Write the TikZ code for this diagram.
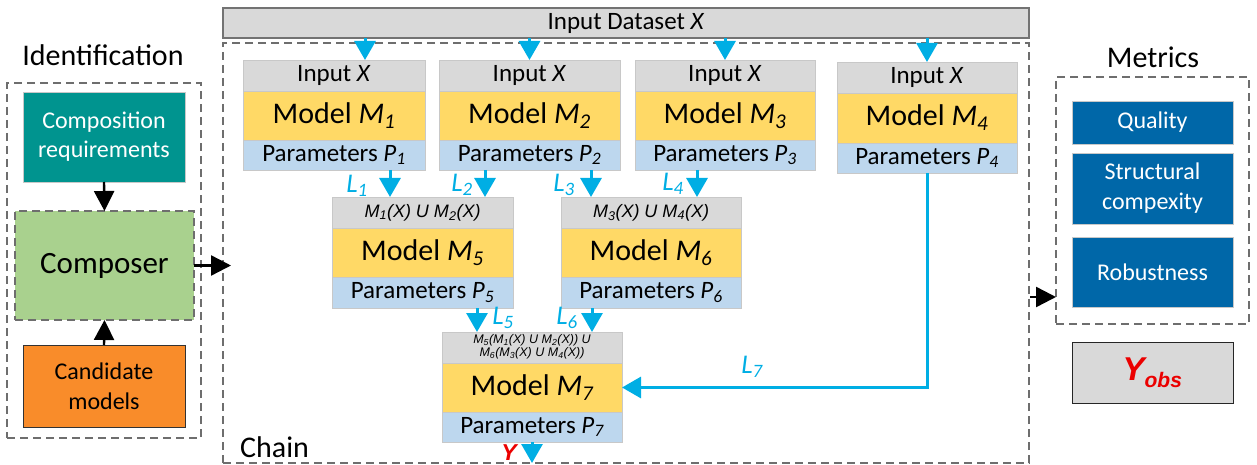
\documentclass[tikz,border=0pt]{standalone}
\usepackage{fontspec}
\setmainfont{Carlito}
\newfontfamily\arialf{Liberation Sans}
\usetikzlibrary{arrows.meta}

\definecolor{cy}{RGB}{0,174,228}
\definecolor{partgray}{RGB}{217,217,217}
\definecolor{partyellow}{RGB}{255,217,102}
\definecolor{partblue}{RGB}{189,215,238}
\definecolor{tealbox}{RGB}{0,148,143}
\definecolor{greenbox}{RGB}{169,209,142}
\definecolor{orangebox}{RGB}{249,140,42}
\definecolor{metblue}{RGB}{0,103,168}
\definecolor{dashgray}{RGB}{110,110,110}
\definecolor{edgegray}{RGB}{200,200,200}
\definecolor{redtext}{RGB}{235,0,0}

\newcommand\fs[1]{\fontsize{#1}{#1}\selectfont}
\newcommand\fsl[2]{\fontsize{#1}{#2}\selectfont}

% #1 name, #2 left, #3 right, #4 top, #5 grey/yellow split, #6 yellow/blue split, #7 bottom, #8 input text, #9 index
\newcommand\modelblock[9]{%
  \node[inpart, minimum width={#3-#2}, minimum height={#5-#4}] (#1in) at (#2,#4) {#8};
  \node[modpart, minimum width={#3-#2}, minimum height={#6-#5}] (#1) at (#2,#5) {Model \textit{M\textsubscript{#9}}};
  \node[parpart, minimum width={#3-#2}, minimum height={#7-#6}] (#1par) at (#2,#6) {Parameters \textit{P\textsubscript{#9}}};
}

\tikzset{
  part/.style={anchor=north west, inner sep=0pt, outer sep=0pt, draw=edgegray, line width=0.8pt},
  inpart/.style={part, fill=partgray, font=\fs{25}},
  modpart/.style={part, fill=partyellow, font=\fs{30}},
  parpart/.style={part, fill=partblue, font=\fs{25}},
  frame/.style={draw=dashgray, line width=1.3pt, dash pattern=on 8pt off 5pt},
  plainbox/.style={anchor=north west, inner sep=0pt, outer sep=0pt, align=center},
  cyarrow/.style={draw=cy, line width=3pt, -{Triangle[width=21pt,length=19pt]}},
  blkarrow/.style={draw=black, line width=2.4pt, -{Triangle[width=20pt,length=20pt]}},
  llabel/.style={text=cy, font=\fs{27}\itshape, inner sep=0pt},
  title/.style={font=\fs{30}, inner sep=0pt},
  metbox/.style={plainbox, fill=metblue, draw=edgegray, line width=0.8pt, text=white, font=\fsl{24}{30}, minimum width=161pt},
}

\begin{document}
\begin{tikzpicture}[x=1pt, y=-1pt]
\useasboundingbox (0,0) rectangle (1257,465);

% ---------- identification panel ----------
\node[title] (idtitle) at (103,55) {Identification};
\node[plainbox, frame, minimum width=194pt, minimum height=355pt] (idframe) at (7,83) {};
\node[plainbox, fill=tealbox, draw=edgegray, line width=0.6pt, text=white, font=\fsl{24}{29},
      minimum width=162pt, minimum height=90pt] (comp) at (23,92) {Composition\\requirements};
\node[plainbox, fill=greenbox, frame, font=\fs{31},
      minimum width=179pt, minimum height=109pt] (composer) at (15,211) {Composer};
\node[plainbox, fill=orangebox, draw=black!80, line width=0.9pt, font=\fsl{24}{30},
      minimum width=162pt, minimum height=82pt] (cand) at (23,345) {Candidate\\models};

\draw[blkarrow] (comp.south) -- (composer.north);
\draw[blkarrow] (cand.north) -- (composer.south);

% ---------- chain ----------
\node[plainbox, fill=partgray, draw=black!55, line width=1.2pt, font=\fs{25},
      minimum width=806pt, minimum height=30pt] (dataset) at (223,8) {Input Dataset \textit{X}};
\node[plainbox, frame, minimum width=806pt, minimum height=420pt] (chain) at (223,43) {};
\node[font=\fs{30}, anchor=base west, inner sep=0pt] (chainlabel) at (240,457) {Chain};

\draw[blkarrow, shorten >=-8pt] (composer.east) -- (composer.east -| chain.west);

\modelblock{ma}{243}{425}{60}{91}{140}{170}{Input \textit{X}}{1}
\modelblock{mb}{439}{620}{60}{91}{140}{170}{Input \textit{X}}{2}
\modelblock{mc}{635}{815}{60}{91}{140}{170}{Input \textit{X}}{3}
\modelblock{md}{837}{1017}{62}{93}{143}{173}{Input \textit{X}}{4}
\modelblock{me}{332}{513}{197}{228}{277}{308}{\arialf\itshape\fs{18}M\textsubscript{1}(X) U M\textsubscript{2}(X)}{5}
\modelblock{mf}{561}{741}{197}{228}{277}{308}{\arialf\itshape\fs{18}M\textsubscript{3}(X) U M\textsubscript{4}(X)}{6}
\modelblock{mg}{442}{622}{332}{363}{412}{442}{\arialf\itshape\fsl{12.5}{13}\begin{tabular}{@{}c@{}}M\textsubscript{5}(M\textsubscript{1}(X) U M\textsubscript{2}(X)) U\\M\textsubscript{6}(M\textsubscript{3}(X) U M\textsubscript{4}(X))\end{tabular}}{7}

% inputs from the dataset
\coordinate (xa) at (365,0);
\draw[cyarrow] (dataset.south -| xa) -- (main.north -| xa);
\draw[cyarrow] (dataset.south -| mbin.north) -- (mbin.north);
\draw[cyarrow] (dataset.south -| mcin.north) -- (mcin.north);
\draw[cyarrow] (dataset.south -| mdin.north) -- (mdin.north);

% links between models
\coordinate (x1) at (390,0);
\coordinate (x2) at (485,0);
\coordinate (x3) at (591,0);
\coordinate (x4) at (697,0);
\coordinate (x5) at (477,0);
\coordinate (x6) at (592,0);
\draw[cyarrow] (mapar.south -| x1) -- (mein.north -| x1);
\draw[cyarrow] (mbpar.south -| x2) -- (mein.north -| x2);
\draw[cyarrow] (mbpar.south -| x3) -- (mfin.north -| x3);
\draw[cyarrow] (mcpar.south -| x4) -- (mfin.north -| x4);
\draw[cyarrow] (mepar.south -| x5) -- (mgin.north -| x5);
\draw[cyarrow] (mfpar.south -| x6) -- (mgin.north -| x6);
\draw[cyarrow] (mdpar.south) |- (mg.east);
\draw[cyarrow] (mgpar.south) -- (mgpar.south |- chain.south);

\node[llabel] (l1) at (357,186) {L\textsubscript{1}};
\node[llabel] (l2) at (462,185) {L\textsubscript{2}};
\node[llabel] (l3) at (564,185) {L\textsubscript{3}};
\node[llabel] (l4) at (673,184) {L\textsubscript{4}};
\node[llabel] (l5) at (503,318) {L\textsubscript{5}};
\node[llabel] (l6) at (567,318) {L\textsubscript{6}};
\node[llabel] (l7) at (752,367) {L\textsubscript{7}};
\node[text=redtext, font=\arialf\bfseries\itshape\fs{23}, inner sep=0pt] (yout) at (509,453) {Y};

% ---------- metrics panel ----------
\node[title] (mettitle) at (1153,57) {Metrics};
\node[plainbox, frame, minimum width=193pt, minimum height=247pt] (metframe) at (1056,77) {};
\node[metbox, minimum height=43pt] (quality) at (1072,101) {Quality};
\node[metbox, minimum height=71pt] (struct) at (1072,153) {Structural\\compexity};
\node[metbox, minimum height=70pt] (robust) at (1072,237) {Robustness};
\node[plainbox, fill=partgray, draw=black!85, line width=1pt, text=redtext,
      font=\arialf\bfseries\itshape\fs{33}, minimum width=161pt, minimum height=61pt]
      (yobs) at (1072,342) {Y\textsubscript{\fs{21}obs}};

\coordinate (mo) at (1030,297);
\draw[blkarrow] (mo) -- (mo -| metframe.west);
\end{tikzpicture}
\end{document}
